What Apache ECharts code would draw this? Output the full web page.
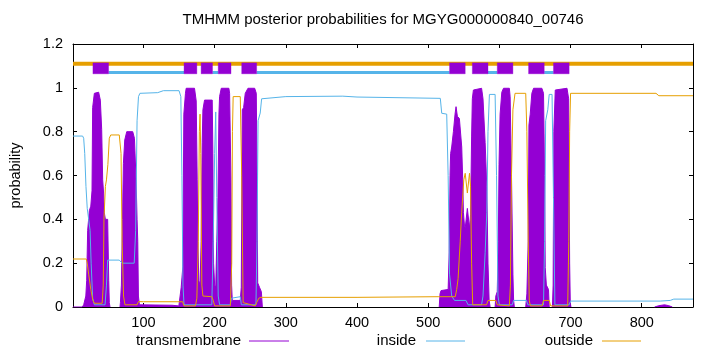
<!DOCTYPE html>
<html>
<head>
<meta charset="utf-8">
<script src="https://cdn.jsdelivr.net/npm/echarts@6/dist/echarts.min.js"></script>
<style>html,body{margin:0;padding:0;background:#fff}#c{width:720px;height:352px}</style>
</head>
<body>
<div id="c"></div>
<script>
const titleText = 'TMHMM posterior probabilities for MGYG000000840_00746';
const seqStart = 1;
const seqEnd = 872;
const xTicks = [100, 200, 300, 400, 500, 600, 700, 800];
const yMin = 0, yMax = 1.2, yStep = 0.2;
const legendNames = ['transmembrane', 'inside', 'outside'];

// predicted topology (top bars)
const tmHelices = [[29,51],[157,175],[181,197],[205,223],[238,259],[530,552],[562,584],[597,619],[641,663],[676,698]];
const insideSegments = [[51,157],[197,205],[259,530],[584,597],[663,676]];
const outsideSegments = [[1,872]];
const barLevels = { outside: 1.11, inside: 1.07, helixTop: 1.114, helixBottom: 1.064 };

// posterior probabilities [position, probability]; null = gap
const tmPoints = [
 [1,0],[14,0],[16,0.01],[19,0.05],[20.2,0.12],[21.6,0.35],[24,0.44],[26,0.46],[27.7,0.53],[28.6,0.91],[31,0.975],[33,0.98],[37,0.98],[39.4,0.944],[41.3,0.81],[42.7,0.58],[44,0.52],[45,0.43],[46.5,0.40],[49.7,0.40],[51.2,0.12],[52,0.02],[53,0],[53.5,null],
 [67,0],[67.6,0.02],[69,0.1],[70.5,0.4],[71.8,0.655],[73.7,0.762],[76.5,0.8],[84.9,0.8],[87.3,0.77],[89.6,0.58],[91,0.4],[92,0.3],[92.9,0.05],[94.3,0.01],[140,0.008],[149.7,0.005],
 [153,0.09],[155.3,0.183],[156.7,0.88],[159,0.975],[160,0.998],[171.7,0.998],[174.1,0.94],[175.5,0.58],[176.4,0.3],[177.8,0.12],[179.5,0.1],[181,0.3],[182.5,0.75],[183.5,0.9],[185.8,0.944],[196.6,0.944],[197.5,0.7],[198.5,0.2],[200,0.1],[201.5,0.09],[203,0.3],[204.6,0.5],[206,0.88],[206.9,0.96],[209.3,0.998],[220,0.998],[221,0.975],[222.9,0.58],[223.8,0.1],[224.8,0.03],[236,0.03],[237.4,0.09],[238.8,0.9],[240.7,0.91],[243,0.975],[246.8,0.998],[256.2,0.998],[258.5,0.975],[259.5,0.6],[260.5,0.11],[263,0.09],[265.6,0.07],[267,0],[267.5,null],
 [515.5,0],[516.6,0.06],[518,0.075],[528,0.08],[529.5,0.25],[530.7,0.6],[531.5,0.7],[533,0.73],[535.4,0.8],[537.7,0.88],[539.1,0.914],[541,0.87],[543.8,0.86],[547.1,0.73],[548.5,0.58],[549.5,0.43],[551,0.37],[552,0.36],[555,0.45],[558,0.36],[559.5,0.42],[561,0.78],[562,0.95],[563.5,0.99],[565,0.998],[575,0.998],[577,0.95],[580,0.75],[582.3,0.55],[584,0.2],[585.6,0.03],[587,0],[587.5,null],
 [594,0],[595,0.05],[597,0.07],[598.5,0.3],[599.5,0.65],[601,0.88],[603.4,0.98],[605.8,0.998],[614,0.998],[615.1,0.96],[617,0.6],[619,0.15],[620,0.03],[621,0],[621.5,null],
 [637,0],[638.6,0.06],[640.5,0.3],[641.5,0.83],[643.3,0.88],[645.6,0.975],[648,0.998],[659.7,0.998],[662,0.975],[663.5,0.6],[664.4,0.18],[666,0.1],[669,0.08],[670,0],[670.5,null],
 [674.5,0],[675.5,0.1],[676.5,0.8],[678.5,0.99],[681,0.998],[695,0.998],[697.3,0.95],[698.7,0.2],[699.6,0.02],[700.5,0],[701,null],
 [818,0],[824,0.006],[832,0.01],[838,0.006],[843,0]
];
const insidePoints = [
 [1,0.78],[14.5,0.78],[16,0.77],[17.5,0.7],[19.2,0.55],[21,0.45],[23,0.40],[25,0.35],[26.5,0.2],[28.6,0.04],[31,0.01],[46,0.01],[48,0.1],[49.7,0.214],[66,0.214],[70,0.2],[87,0.2],[89,0.35],[91,0.85],[93,0.96],[95,0.975],[120,0.978],[128,0.987],[150,0.987],[152.5,0.96],[154,0.6],[155.5,0.1],[157,0.01],[196,0.01],[198,0.3],[200,0.7],[201.5,0.89],[203,0.5],[205,0.05],[207,0.01],[222,0.01],[223.5,0.04],[236,0.047],[237.5,0.01],[258,0.01],[259.5,0.3],[261,0.85],[264,0.885],[266,0.95],[268,0.957],[300,0.96],[380,0.962],[400,0.958],[517,0.952],[519,0.884],[526,0.88],[528,0.6],[530,0.15],[533,0.05],[537,0.03],[553,0.03],[556,0.01],[575,0.01],[577,0.05],[580,0.25],[582.3,0.43],[584,0.8],[586,0.97],[594,0.97],[596,0.6],[598,0.05],[600,0.01],[618,0.01],[620,0.03],[638,0.03],[640,0.01],[662,0.01],[663.5,0.3],[665,0.85],[668,0.9],[670,0.97],[674,0.97],[676,0.5],[678,0.01],[698,0.01],[700,0.027],[826,0.027],[840,0.03],[845,0.036],[872,0.036]
];
const outsidePoints = [
 [1,0.219],[19.7,0.219],[21,0.2],[23,0.15],[26,0.08],[29,0.03],[31,0.017],[42,0.017],[43.5,0.1],[44.5,0.4],[46.5,0.55],[48,0.58],[50,0.65],[52,0.77],[54,0.785],[66,0.785],[68.5,0.7],[70,0.3],[72,0.05],[74,0.01],[91,0.01],[93,0.025],[95,0.03],[100,0.024],[155,0.024],[157,0.005],[173,0.005],[175,0.04],[177,0.3],[178.5,0.8],[179.5,0.88],[180.5,0.7],[182,0.1],[183.5,0.05],[196,0.047],[198,0.03],[200,0.005],[222,0.005],[224,0.2],[225,0.8],[226,0.96],[236,0.96],[238,0.6],[240,0.02],[257,0.005],[259,0.02],[262,0.04],[265,0.044],[400,0.044],[515,0.047],[538,0.047],[540,0.08],[542,0.13],[545,0.3],[547,0.43],[550,0.58],[552,0.61],[555,0.52],[558,0.61],[559.5,0.55],[561,0.2],[562.5,0.01],[582,0.01],[584,0.03],[595,0.03],[597,0.01],[614,0.005],[615.5,0.1],[617,0.6],[619,0.9],[622,0.975],[637,0.975],[638.6,0.8],[640.5,0.3],[642,0.03],[643.5,0.005],[660,0.005],[662,0.03],[670,0.03],[672,0.005],[696,0.005],[697.5,0.3],[698.7,0.8],[700,0.975],[820,0.975],[824,0.964],[872,0.964]
];

const C_TM = '#9400D3', C_IN = '#56B4E9', C_OUT = '#E69F00';
const FONT = '"Liberation Sans", Arial, sans-serif';

function segLine(segs, level) {
  const out = [];
  segs.forEach(s => { out.push([s[0], level], [s[1], level], [s[1], null]); });
  return out;
}

const chart = echarts.init(document.getElementById('c'), null, { renderer: 'canvas' });
const axisCommonX = {
  type: 'value', min: seqStart, max: seqEnd,
  axisLine: { show: true, onZero: false, lineStyle: { color: '#000', width: 1 } },
  axisTick: { show: true, inside: true, length: 4, customValues: xTicks, lineStyle: { color: '#000' } },
  splitLine: { show: false }
};
const axisCommonY = {
  type: 'value', min: yMin, max: yMax, interval: yStep,
  axisLine: { show: true, onZero: false, lineStyle: { color: '#000', width: 1 } },
  axisTick: { show: true, inside: true, length: 4, lineStyle: { color: '#000' } },
  splitLine: { show: false }
};

chart.setOption({
  animation: false,
  backgroundColor: '#fff',
  grid: { left: 73, right: 27, top: 44, bottom: 45, containLabel: false },
  xAxis: [
    Object.assign({}, axisCommonX, { position: 'bottom',
      axisLabel: { customValues: xTicks, margin: 8, fontSize: 14.5, color: '#000', fontFamily: FONT } }),
    Object.assign({}, axisCommonX, { position: 'top', axisLabel: { show: false } })
  ],
  yAxis: [
    Object.assign({}, axisCommonY, { position: 'left',
      axisLabel: { margin: 10, fontSize: 14.5, color: '#000', fontFamily: FONT,
        formatter: v => String(+v.toFixed(1)) },
      name: 'probability', nameLocation: 'middle', nameGap: 50, nameRotate: 90,
      nameTextStyle: { fontSize: 14.5, color: '#000', fontFamily: FONT } }),
    Object.assign({}, axisCommonY, { position: 'right', axisLabel: { show: false } })
  ],
  graphic: [
    { type: 'text', x: 383, y: 20, style: { text: titleText, fill: '#000', font: '15px ' + FONT, textAlign: 'center', textVerticalAlign: 'middle' } },
    { type: 'text', x: 241, y: 341, style: { text: legendNames[0], fill: '#000', font: '15px ' + FONT, textAlign: 'right', textVerticalAlign: 'middle' } },
    { type: 'line', shape: { x1: 249, y1: 341, x2: 289, y2: 341 }, style: { stroke: C_TM, lineWidth: 1 } },
    { type: 'text', x: 416, y: 341, style: { text: legendNames[1], fill: '#000', font: '15px ' + FONT, textAlign: 'right', textVerticalAlign: 'middle' } },
    { type: 'line', shape: { x1: 426, y1: 341, x2: 465, y2: 341 }, style: { stroke: C_IN, lineWidth: 1 } },
    { type: 'text', x: 593, y: 341, style: { text: legendNames[2], fill: '#000', font: '15px ' + FONT, textAlign: 'right', textVerticalAlign: 'middle' } },
    { type: 'line', shape: { x1: 602, y1: 341, x2: 641, y2: 341 }, style: { stroke: C_OUT, lineWidth: 1 } }
  ],
  series: [
    { name: legendNames[0], type: 'line', data: tmPoints, showSymbol: false, symbol: 'none', connectNulls: false,
      lineStyle: { color: C_TM, width: 1 }, areaStyle: { color: C_TM, opacity: 1 }, z: 2 },
    { name: legendNames[1], type: 'line', data: insidePoints, showSymbol: false, symbol: 'none',
      lineStyle: { color: C_IN, width: 1 }, z: 3 },
    { name: legendNames[2], type: 'line', data: outsidePoints, showSymbol: false, symbol: 'none',
      lineStyle: { color: C_OUT, width: 1 }, z: 4 },
    { type: 'line', data: segLine(outsideSegments, barLevels.outside), showSymbol: false, symbol: 'none', connectNulls: false,
      lineStyle: { color: C_OUT, width: 4, cap: 'butt' }, z: 5 },
    { type: 'line', data: segLine(insideSegments, barLevels.inside), showSymbol: false, symbol: 'none', connectNulls: false,
      lineStyle: { color: C_IN, width: 3, cap: 'butt' }, z: 5 },
    { type: 'custom', data: tmHelices, encode: { x: [0, 1] }, z: 6,
      renderItem: function (params, api) {
        const a = api.coord([api.value(0), barLevels.helixTop]);
        const b = api.coord([api.value(1), barLevels.helixBottom]);
        return { type: 'rect', shape: { x: a[0], y: a[1], width: b[0] - a[0], height: b[1] - a[1] },
          style: { fill: C_TM, stroke: 'rgba(148,0,211,0.35)', lineWidth: 1 } };
      } }
  ]
});
</script>
</body>
</html>
